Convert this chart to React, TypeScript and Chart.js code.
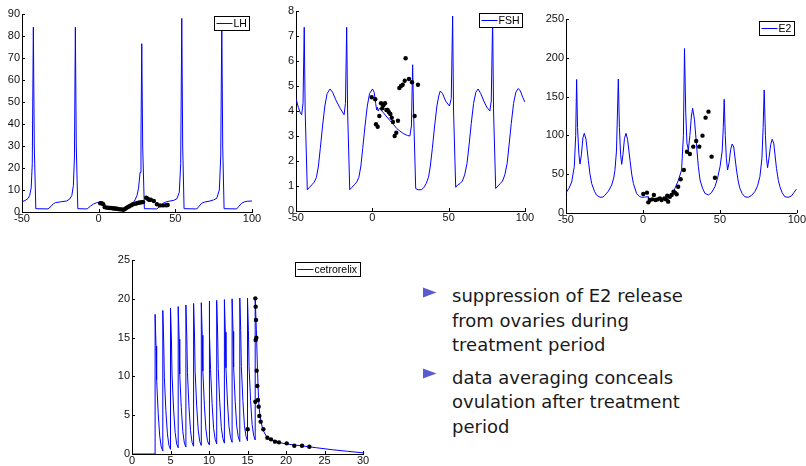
import React, { useEffect, useRef } from 'react';
import { Chart, registerables } from 'chart.js';

Chart.register(...registerables);

// ---------- LH ----------
const LH_MODEL_T = [-50,-48,-46,-45,-44,-43.3,-42.6,-42,-41,-33,-31,-29.5,-28,-25,-21,-19,-17.5,-16.5,-15.8,-15.2,-14.6,-13.6,-7.5,-5.5,-3.5,-1.5,0.5,2,3,4,8,12,16,18,20,22,23.7,25,26,27,27.6,28.1,28.7,29.8,37.9,40,42.2,44,46.5,49,51,52.6,53.5,54.2,54.8,55.7,64,65.5,67.2,69,72.6,75,77,78.7,79.6,80.3,80.9,81.8,90,91.5,93.3,95,97,100];
const LH_MODEL_V = [4.7,5.2,6.2,7.5,11,22,84,30,1.5,1.4,2.6,3.8,4.3,4.6,5.0,5.8,7.5,12,25,84,30,1.5,1.4,2.6,3.6,4.2,4.3,4.0,3.4,1.8,1.6,1.3,1.1,1.6,2.4,3.5,5.5,7.5,10.8,18,35,76.5,30,1.5,1.4,2.6,4.0,4.6,5.0,5.3,6,9,22,88,30,1.5,1.4,2.6,4.0,4.5,5.0,5.5,6.2,10,25,86,30,1.5,1.4,2.6,4.0,4.6,4.9,5.0];
const LH_DATA_T = [1,2,3,4,5,6,7,8,9,10,11,12,13,14,15,16,17,18,19,20,21,22,23,24,25,26,27,28,29,31,32,33,34,36,38,40,42,44,45];
const LH_DATA_V = [4.0,4.0,3.5,2.2,2.0,2.0,1.8,1.8,1.7,1.6,1.6,1.5,1.3,1.2,1.2,1.0,1.3,1.8,2.2,2.6,3.0,3.4,3.6,3.8,4.0,4.2,4.3,4.4,4.5,6.5,6.0,5.5,5.6,5.0,3.5,3.0,3.0,3.1,3.2];

// ---------- FSH ----------
const FSH_MODEL_T = [-50,-48.5,-47,-46.3,-45.4,-44.6,-44,-42.6,-41.1,-39.6,-38.1,-36.6,-35.3,-34.1,-32.6,-31.1,-29.6,-27.7,-26,-24,-21,-18.5,-17.6,-16.8,-16.2,-14.8,-13.3,-11.8,-10.3,-8.8,-7.5,-6.3,-4.8,-3.3,-1.8,0.1,1.2,2.2,2.8,3.3,3.8,4.5,5.5,7,9,11.5,14,16,18,20.3,23,24.6,25.6,26.4,27,28.4,30,32.3,33.8,35.3,36.8,38,39.3,40.8,42.3,43.5,44.5,46,48,50.5,51.7,52.6,53.2,54.6,56,57.5,59,60.5,62,63.3,64.8,66.3,67.8,69.3,71,73,75,77,77.9,78.8,79.4,80.8,82.3,83.8,85.3,86.8,88.3,89.5,91,92.5,94,95.6,97,98.5,100];
const FSH_MODEL_V = [4.5,4.15,3.9,3.85,4.3,7.35,4.0,0.85,0.95,1.05,1.15,1.35,1.8,2.5,3.4,4.2,4.7,4.88,4.75,4.45,4.1,3.85,4.3,7.35,4.0,0.85,0.95,1.05,1.15,1.35,1.8,2.5,3.4,4.2,4.7,4.88,4.75,4.3,4.05,4.15,4.0,4.1,4.05,3.95,3.8,3.62,3.45,3.3,3.2,3.1,3.02,3.0,3.4,5.85,4.0,0.9,0.85,0.85,0.95,1.1,1.35,1.8,2.5,3.4,4.2,4.6,4.8,4.7,4.4,4.2,4.5,7.8,4.0,0.95,1.05,1.1,1.2,1.45,1.9,2.6,3.5,4.3,4.75,4.88,4.7,4.4,4.15,4.0,4.4,7.7,4.0,0.9,1.0,1.1,1.2,1.45,1.9,2.6,3.5,4.3,4.75,4.9,4.8,4.55,4.35];
const FSH_DATA_T = [-0.4,1.9,2.4,3.5,4.6,5.7,6.5,7.2,8.3,9.2,10,10.9,11.8,12.7,13.5,14.6,15.7,16.8,17.7,18.8,19.9,21.2,21.8,24,26,27.7,29.9];
const FSH_DATA_V = [4.55,4.47,3.47,3.37,3.8,4.31,4.11,4.23,4.31,4.04,4.04,3.95,3.88,3.73,3.56,3.0,3.13,3.61,4.92,5.0,5.05,5.21,6.11,5.28,5.15,3.8,5.05];

// ---------- E2 ----------
const E2_MODEL_T = [-50,-48,-46.3,-44.6,-43.7,-43.1,-42.5,-41.6,-40.9,-40,-39,-38.1,-37,-35.5,-34.4,-33.3,-31.5,-30.1,-27.9,-26,-24.7,-22.5,-20.3,-19,-18.2,-17.2,-16,-15.3,-14.5,-13.8,-13,-12,-11,-10,-8.4,-7.3,-6.2,-4.1,-2,-0.8,1,3.4,3.6,5,8,11,14,16,17,18,19,20.8,23,25.1,26.3,27,27.8,28.6,29.5,30.5,31.5,32.3,33.5,34.9,36,37.1,38.7,40.3,42.5,44.5,46.8,48.5,50.1,51.5,52.2,52.8,53.5,54.2,55,56,57,58,59,60.8,62,63,64.5,66.2,68.4,70.5,72.7,74.5,76,77.3,78.1,78.8,79.6,80.3,81,82,83,84,85,86.8,88,89,90.5,92.2,94.4,96.5,98,99.8];
const E2_MODEL_V = [26,32,40,60,100,172,110,75,63,75,97,102.7,95,68,50,38,28,23,20.2,20.5,23,28,36,45,55,80,172.7,110,75,62.7,75,96,102.7,95,68,50,38,25,21,20.2,20.5,21,17,17,17.5,18,17,17.5,18,20,22,31.8,42,55.4,100,212,130,90,81,100,125,134.9,120,85.4,60,42.5,32,25.3,23.2,26,33.9,45,59.7,80,110,146.5,100,70,55.4,65,82,88.9,85,55.4,40,31.8,25,21,20.2,22.5,27.5,35,46.8,70,110,158.5,100,70,58.4,72,88,95,90,57.2,42,33.9,26,21,20.2,22,26,30.9];
const E2_DATA_T = [0.2,2.6,3.5,4.5,6.1,7.1,8.2,9.5,11,12.1,13.9,14.9,15.8,16.4,17.5,18.6,19.9,20.8,21.9,22.9,24.5,26.6,28.6,30.5,32.7,34.6,36.6,38.7,40.7,42.6,44.6,46.8];
const E2_DATA_V = [24.5,26.2,13.7,16.8,17.6,23.2,16.8,17.6,18.9,16.8,18.9,17.6,22.3,14.6,21,23.2,27.5,26.2,24.1,33.9,43.4,55.4,79,76,85.5,92.8,85.5,99.7,122.9,130.6,72.6,45.5];

// ---------- cetrorelix ----------
const CET_MODEL_T = [0,3,3,3.12,3.2,3.4,3.6,3.8,4,4,4.12,4.2,4.4,4.6,4.8,5,5,5.12,5.2,5.4,5.6,5.8,6,6,6.12,6.2,6.4,6.6,6.8,7,7,7.12,7.2,7.4,7.6,7.8,8,8,8.12,8.2,8.4,8.6,8.8,9,9,9.12,9.2,9.4,9.6,9.8,10,10,10.12,10.2,10.4,10.6,10.8,11,11,11.12,11.2,11.4,11.6,11.8,12,12,12.12,12.2,12.4,12.6,12.8,13,13,13.12,13.2,13.4,13.6,13.8,14,14,14.12,14.2,14.4,14.6,14.8,15,15,15.12,15.2,15.4,15.6,15.8,16,16,16.15,16.3,16.4,16.5,16.7,17,17.5,18,19,20,22,24,26,28,30];
const CET_MODEL_V = [0,0,18.0,13.9,9.6,5.3,2.3,0.9,0.4,18.5,14.4,9.9,5.6,2.6,1.1,0.6,18.8,14.7,10.2,5.8,2.8,1.3,0.8,19.0,14.8,10.3,6.0,2.9,1.4,0.9,19.2,15.0,10.5,6.1,3.0,1.5,1.0,19.4,15.2,10.6,6.2,3.1,1.6,1.1,19.5,15.3,10.7,6.3,3.2,1.7,1.2,19.7,15.5,10.9,6.5,3.3,1.9,1.3,19.8,15.6,11.0,6.6,3.4,2.0,1.4,19.9,15.7,11.1,6.7,3.5,2.1,1.5,20.0,15.8,11.2,6.8,3.6,2.2,1.6,20.1,15.9,11.3,6.9,3.7,2.3,1.7,20.1,15.9,11.3,6.9,3.8,2.4,1.8,20.2,16.0,10.8,8.0,6.0,4.4,3.1,2.2,1.85,1.5,1.3,1.05,0.8,0.55,0.35,0.15];
const CET_DATA_T = [15.02,16.02,16.06,16.1,16.06,16.15,16.19,16.28,16.02,16.36,16.45,16.54,16.71,17.06,17.58,18.05,18.57,19.09,20.09,21.08,22.08,23.03];
const CET_DATA_V = [3.18,20.06,18.99,17.27,14.69,14.99,10.74,8.76,6.74,6.96,6.1,4.9,4.17,3.18,2.1,1.89,1.59,1.5,1.37,1.07,1.07,0.94];

const BLUE = '#0000ff';
const TICK_FONT = { family: '"Liberation Sans", Arial, sans-serif', size: 11 };

function pairs(t: number[], v: number[]) {
  return t.map((x, i) => ({ x, y: v[i] }));
}

const inwardTicks = {
  id: 'inwardTicks',
  afterDraw(chart: any) {
    const ctx = chart.ctx;
    const { left, bottom } = chart.chartArea;
    const xs = chart.scales.x;
    const ys = chart.scales.y;
    ctx.save();
    ctx.strokeStyle = '#000';
    ctx.lineWidth = 1;
    ctx.beginPath();
    xs.ticks.forEach((t: any) => {
      const p = Math.round(xs.getPixelForValue(t.value)) + 0.5;
      ctx.moveTo(p, bottom);
      ctx.lineTo(p, bottom - 3);
    });
    ys.ticks.forEach((t: any) => {
      const p = Math.round(ys.getPixelForValue(t.value)) + 0.5;
      ctx.moveTo(left, p);
      ctx.lineTo(left + 3, p);
    });
    ctx.stroke();
    ctx.restore();
  },
};

const boxLegend = {
  id: 'boxLegend',
  afterDatasetsDraw(chart: any) {
    const label = chart.data.datasets[0].label;
    const ctx = chart.ctx;
    const { right, top } = chart.chartArea;
    ctx.save();
    ctx.font = '10.5px "Liberation Sans", Arial, sans-serif';
    const tw = ctx.measureText(label).width;
    const h = 14;
    const w = Math.round(2 + 16 + 2 + tw + 2);
    const x1 = Math.round(right - 3 - w) + 0.5;
    const y1 = Math.round(top + 2) + 0.5;
    ctx.fillStyle = '#fff';
    ctx.fillRect(x1, y1, w, h);
    ctx.strokeStyle = '#000';
    ctx.lineWidth = 1;
    ctx.strokeRect(x1, y1, w, h);
    ctx.strokeStyle = BLUE;
    ctx.beginPath();
    ctx.moveTo(x1 + 2, y1 + h / 2);
    ctx.lineTo(x1 + 18, y1 + h / 2);
    ctx.stroke();
    ctx.fillStyle = '#000';
    ctx.textBaseline = 'middle';
    ctx.fillText(label, x1 + 19, y1 + h / 2 + 0.5);
    ctx.restore();
  },
};

type PlotProps = {
  left: number; top: number; width: number; height: number;
  yAxisW: number; xAxisH: number; padTop: number; padRight: number;
  xMin: number; xMax: number; xStep: number;
  yMin: number; yMax: number; yStep: number;
  label: string;
  modelT: number[]; modelV: number[]; dataT: number[]; dataV: number[];
};

function Plot(p: PlotProps) {
  const ref = useRef<HTMLCanvasElement>(null);
  useEffect(() => {
    if (!ref.current) return;
    const chart = new Chart(ref.current, {
      type: 'scatter',
      data: {
        datasets: [
          {
            label: p.label,
            data: pairs(p.modelT, p.modelV),
            showLine: true,
            borderColor: BLUE,
            borderWidth: 1,
            pointRadius: 0,
            tension: 0,
            order: 2,
          } as any,
          {
            label: 'data',
            data: pairs(p.dataT, p.dataV),
            showLine: false,
            pointRadius: 2.2,
            pointBackgroundColor: '#000',
            pointBorderWidth: 0,
            order: 1,
          } as any,
        ],
      },
      options: {
        animation: false,
        responsive: false,
        events: [],
        layout: { padding: { left: 0, right: p.padRight, top: p.padTop, bottom: 0 } },
        plugins: { legend: { display: false }, tooltip: { enabled: false } },
        scales: {
          x: {
            type: 'linear',
            min: p.xMin,
            max: p.xMax,
            ticks: { stepSize: p.xStep, font: TICK_FONT, color: '#111', padding: 0, maxRotation: 0, autoSkip: false },
            grid: { display: false, drawTicks: false },
            border: { display: true, color: '#000', width: 1 },
            afterFit: (s: any) => { s.height = p.xAxisH; },
          },
          y: {
            type: 'linear',
            min: p.yMin,
            max: p.yMax,
            ticks: { stepSize: p.yStep, font: TICK_FONT, color: '#111', padding: 2, autoSkip: false },
            grid: { display: false, drawTicks: false },
            border: { display: true, color: '#000', width: 1 },
            afterFit: (s: any) => { s.width = p.yAxisW; },
          },
        },
      } as any,
      plugins: [boxLegend, inwardTicks],
    });
    return () => chart.destroy();
  }, []);
  return (
    <canvas
      ref={ref}
      width={p.width}
      height={p.height}
      style={{ position: 'absolute', left: p.left, top: p.top, width: p.width, height: p.height }}
    />
  );
}

function Bullet({ top }: { top: number }) {
  return (
    <svg style={{ position: 'absolute', left: 422, top }} width={16} height={12}>
      <polygon points="1,0.5 1,10.5 14.5,5.5" fill="#5c5cd2" />
    </svg>
  );
}

const textStyle: React.CSSProperties = {
  position: 'absolute',
  left: 452,
  fontFamily: '"DejaVu Sans", sans-serif',
  fontSize: 18,
  lineHeight: '24.5px',
  color: '#1a1a1a',
  whiteSpace: 'nowrap',
};

export default function App() {
  return (
    <div style={{ position: 'absolute', left: 0, top: 0, width: 806, height: 466, background: '#fff', overflow: 'hidden' }}>
      <Plot left={0} top={0} width={268} height={232} yAxisW={22} xAxisH={20} padTop={14} padRight={16}
        xMin={-50} xMax={100} xStep={50} yMin={0} yMax={90} yStep={10} label="LH"
        modelT={LH_MODEL_T} modelV={LH_MODEL_V} dataT={LH_DATA_T} dataV={LH_DATA_V} />
      <Plot left={268} top={0} width={272} height={232} yAxisW={28} xAxisH={21} padTop={11} padRight={15}
        xMin={-50} xMax={100} xStep={50} yMin={0} yMax={8} yStep={1} label="FSH"
        modelT={FSH_MODEL_T} modelV={FSH_MODEL_V} dataT={FSH_DATA_T} dataV={FSH_DATA_V} />
      <Plot left={540} top={0} width={266} height={232} yAxisW={26} xAxisH={19} padTop={19} padRight={9}
        xMin={-50} xMax={100} xStep={50} yMin={0} yMax={250} yStep={50} label="E2"
        modelT={E2_MODEL_T} modelV={E2_MODEL_V} dataT={E2_DATA_T} dataV={E2_DATA_V} />
      <Plot left={100} top={245} width={280} height={221} yAxisW={32} xAxisH={12} padTop={15} padRight={17}
        xMin={0} xMax={30} xStep={5} yMin={0} yMax={25} yStep={5} label="cetrorelix"
        modelT={CET_MODEL_T} modelV={CET_MODEL_V} dataT={CET_DATA_T} dataV={CET_DATA_V} />
      <Bullet top={287} />
      <div style={{ ...textStyle, top: 284 }}>
        suppression of E2 release<br />from ovaries during<br />treatment period
      </div>
      <Bullet top={368} />
      <div style={{ ...textStyle, top: 365.5 }}>
        data averaging conceals<br />ovulation after treatment<br />period
      </div>
    </div>
  );
}
